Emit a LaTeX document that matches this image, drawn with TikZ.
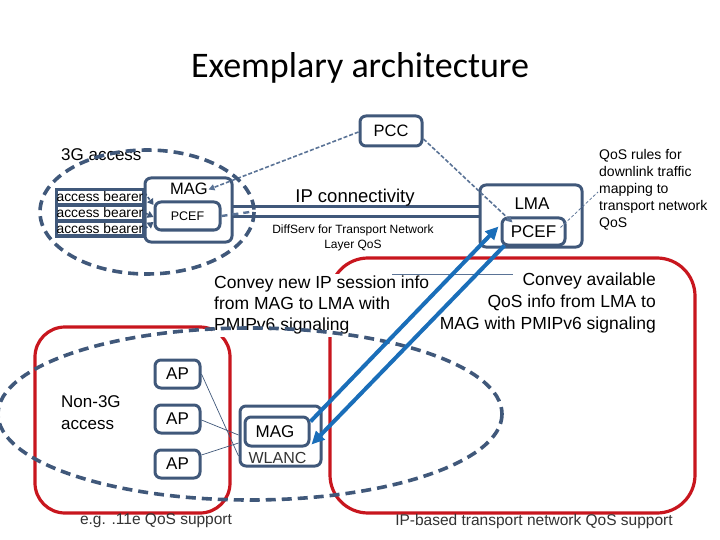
\documentclass[tikz,border=0pt]{standalone}
\usepackage{fontspec}
\setmainfont{Liberation Sans}
\newfontfamily\titlefont{Carlito}
\usetikzlibrary{arrows.meta}
\definecolor{slate}{RGB}{64,88,122}
\definecolor{dashc}{RGB}{90,115,150}
\definecolor{redc}{RGB}{200,22,30}
\definecolor{bluec}{RGB}{26,110,185}
\newcommand{\fsz}[2]{\fontsize{#1}{#2}\selectfont}
\begin{document}
\begin{tikzpicture}[x=1pt,y=-1pt,
  box/.style={draw=slate, line width=3pt, rounded corners=6pt, inner sep=0pt, fill=white},
  bearer/.style={draw=slate, line width=3.2pt, inner sep=0pt, minimum width=86pt, minimum height=15pt, font=\fsz{13.8}{14}},
  lbl/.style={inner sep=0pt, font=\fsz{17}{20}},
  pccline/.style={draw=dashc, line width=1.6pt, dash pattern=on 4pt off 2pt, -{Triangle[length=6pt,width=6pt]}},
  bigdash/.style={draw=slate, line width=3.6pt, dash pattern=on 10pt off 6pt},
  redbox/.style={draw=redc, line width=3.2pt},
  blarrow/.style={draw=bluec, line width=4pt, -{Triangle[length=13pt,width=12pt]}},
  thin/.style={draw=slate, line width=0.7pt}
]
\useasboundingbox (0,0) rectangle (720,540);

% title
\node[inner sep=0pt, font=\titlefont\fsz{36}{40}] (title) at (360,68) {Exemplary architecture};

% red regions
\draw[redbox, rounded corners=30pt] (35,327) rectangle (230,513);
\draw[redbox, rounded corners=38pt] (330,258) rectangle (695,513);

% PCC
\node[box, minimum width=62pt, minimum height=30pt, font=\fsz{16.5}{18}] (pcc) at (391,131) {PCC};

% 3G access
\node[lbl, anchor=west] (l3g) at (61,155) {3G access};
\node[bearer] (ab1) at (100,197) {access bearer};
\node[bearer] (ab2) at (100,213) {access bearer};
\node[bearer] (ab3) at (100,228.5) {access bearer};

% pipe
\coordinate (pipeL1) at (232,207); \coordinate (pipeR1) at (480,207);
\coordinate (pipeL2) at (232,217); \coordinate (pipeR2) at (480,217);
\draw[slate, line width=3pt] (pipeL1) -- (pipeR1);
\draw[slate, line width=3pt] (pipeL2) -- (pipeR2);

\node[box, minimum width=87pt, minimum height=64pt] (mag3g) at (188.5,210) {};
\node[lbl, font=\fsz{16.5}{18}] (mag3gt) at (189,189) {MAG};
\node[box, minimum width=65pt, minimum height=28pt, font=\fsz{12.5}{14}] (pcef3g) at (187.5,216) {PCEF};

\coordinate (pd) at (250,212);
\draw[draw=dashc, line width=2.4pt, dash pattern=on 6pt off 5pt] (pcef3g.east) -- (pd);

\draw[draw=slate, line width=1.6pt, dash pattern=on 3pt off 2pt, -{Triangle[length=6pt,width=7pt]}] ([yshift=4pt]ab1.east) -- ([yshift=11pt]pcef3g.west);
\draw[draw=slate, line width=1.6pt, dash pattern=on 3pt off 2pt, -{Triangle[length=6pt,width=7pt]}] (ab2.east) -- ([yshift=-1pt]pcef3g.west);
\draw[draw=slate, line width=1.6pt, dash pattern=on 3pt off 2pt, -{Triangle[length=6pt,width=7pt]}] (ab3.east) -- ([yshift=-6pt]pcef3g.west);

\node[lbl, font=\fsz{18.5}{20}] (ipc) at (355,198) {IP connectivity};
\node[inner sep=0pt, align=center, font=\fsz{12}{15}] (diff) at (353,238) {DiffServ for Transport Network\\Layer QoS};

% LMA
\node[box, minimum width=102pt, minimum height=62pt] (lma) at (531,216) {};
\node[lbl, font=\fsz{17}{18}] (lmat) at (532,204) {LMA};
\node[box, minimum width=63pt, minimum height=27pt, font=\fsz{17}{18}] (lpcef) at (533.5,231.5) {PCEF};

% QoS rules
\node[inner sep=0pt, anchor=north west, align=left, font=\fsz{14}{17}] (qos) at (599,149) {QoS rules for\\downlink traffic\\mapping to\\transport network\\QoS};
\coordinate (qosp) at (598,192);
\draw[draw=dashc, line width=0.8pt, dash pattern=on 3pt off 2pt] ([xshift=-6pt,yshift=4pt]lpcef.east) -- (qosp);

% PCC lines
\draw[pccline] ([yshift=-1pt]pcc.west) -- ([xshift=-13pt,yshift=11pt]pcef3g.north east);
\draw[pccline] ([yshift=-8pt]pcc.east) -- ([xshift=-21pt,yshift=-6pt]lpcef.north);

% convey texts
\node[inner sep=2pt, fill=white, anchor=north west, align=left, font=\fsz{17.5}{21}] (conv1) at (212,274) {Convey new IP session info\\from MAG to LMA with\\PMIPv6 signaling};
\node[inner sep=0pt, anchor=north east, align=right, font=\fsz{17.5}{22}] (conv2) at (656,273) {Convey available\\QoS info from LMA to\\MAG with PMIPv6 signaling};
\coordinate (cl1) at (392,274); \coordinate (cl2) at (513,274);
\draw[draw=dashc, line width=0.8pt] (cl1) -- (cl2);

% Non-3G
\node[inner sep=0pt, anchor=north west, align=left, font=\fsz{17}{22}] (n3g) at (61,395) {Non-3G\\access};
\node[box, minimum width=45pt, minimum height=28pt, font=\fsz{17}{18}] (ap1) at (177.5,374) {AP};
\node[box, minimum width=45pt, minimum height=28pt, font=\fsz{17}{18}] (ap2) at (177.5,419) {AP};
\node[box, minimum width=45pt, minimum height=28pt, font=\fsz{17}{18}] (ap3) at (177.5,464) {AP};

\node[box, minimum width=81pt, minimum height=60pt] (wlanc) at (280.5,436) {};
\node[inner sep=0pt, font=\fsz{16}{18}, text=black!80] (wlanct) at (277.5,458) {WLANC};
\node[box, minimum width=64pt, minimum height=29pt] (wmag) at (277,431.5) {};
\node[lbl, font=\fsz{17}{18}] (wmagt) at (275,431.5) {MAG};

\draw[thin] (ap1.east) -- ([yshift=-20pt]wlanc.west);
\draw[thin] ([yshift=-1pt]ap2.east) -- ([yshift=1pt]wlanc.west);
\draw[thin] ([yshift=9pt]ap3.east) -- ([yshift=-7pt]wlanc.west);

% dashed domain ellipses
\draw[bigdash] (147,212) ellipse [x radius=107, y radius=62];
\draw[bigdash] (250,414) ellipse [x radius=252, y radius=86];

% PMIPv6 signalling arrows
\draw[blarrow] ([yshift=10pt]wmag.east) -- ([xshift=-2pt,yshift=5pt]lpcef.west);
\draw[blarrow] ([xshift=4pt,yshift=1pt]lpcef.south west) -- ([xshift=1pt,yshift=3pt]wmag.south east);

% captions
\node[inner sep=0pt, font=\fsz{15.5}{17}, text=black!80] (cap1) at (156,521) {e.g. .11e QoS support};
\node[inner sep=0pt, font=\fsz{15.5}{17}, text=black!80] (cap2) at (534,521) {IP-based transport network QoS support};
\end{tikzpicture}
\end{document}
